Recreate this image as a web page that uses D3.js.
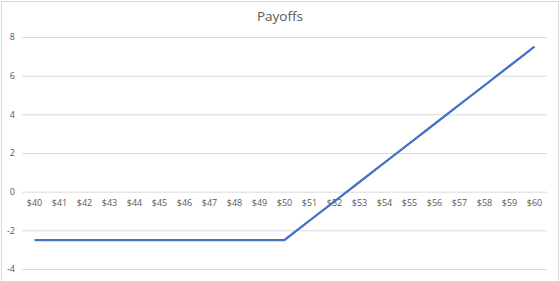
<!DOCTYPE html>
<html><head><meta charset="utf-8">
<script src="https://cdn.jsdelivr.net/npm/d3@7"></script>
<style>body{margin:0;background:#fff}svg{display:block}text{font-family:"Open Sans","Noto Sans",sans-serif;fill:#595959}</style>
</head><body><svg id="c" width="560" height="281"></svg>
<script>
const categories = ["$40","$41","$42","$43","$44","$45","$46","$47","$48","$49","$50","$51","$52","$53","$54","$55","$56","$57","$58","$59","$60"];
const payoffs = [-2.5,-2.5,-2.5,-2.5,-2.5,-2.5,-2.5,-2.5,-2.5,-2.5,-2.5,-1.5,-0.5,0.5,1.5,2.5,3.5,4.5,5.5,6.5,7.5];
const yTicks = [-4,-2,0,2,4,6,8];
const title = "Payoffs";

const svg = d3.select("#c");
svg.append("rect").attr("x",1.5).attr("y",1.5).attr("width",557).attr("height",285)
  .attr("fill","none").attr("stroke","#d9d9d9");
const x = d3.scaleBand().domain(categories).range([22,547]);
const y = d3.scaleLinear().domain([-4,8]).range([269,37]);

const gy = svg.append("g").attr("transform","translate(22,0)")
  .call(d3.axisLeft(y).tickValues(yTicks).tickSize(-525).tickPadding(7).tickFormat(d=>String(d)));
gy.select(".domain").remove();
gy.selectAll(".tick line").attr("stroke","#d9d9d9");
gy.selectAll(".tick text").attr("font-size","9px").attr("fill","#595959");

const gx = svg.append("g").attr("transform",`translate(0,${y(0)})`)
  .call(d3.axisBottom(x).tickSize(0).tickPadding(8));
gx.select(".domain").remove();
gx.selectAll(".tick text").attr("font-size","9px").attr("fill","#595959");

const line = d3.line().x((d,i)=>x(categories[i])+x.bandwidth()/2).y(d=>y(d));
svg.append("path").datum(payoffs).attr("d",line).attr("fill","none")
  .attr("stroke","#4472c4").attr("stroke-width",2.25).attr("stroke-linejoin","round");

svg.append("text").attr("x",280).attr("y",21).attr("text-anchor","middle")
  .attr("font-size","13.5px").text(title);
</script></body></html>
